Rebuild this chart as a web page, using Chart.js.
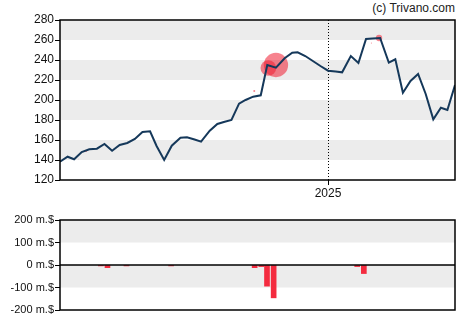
<!DOCTYPE html>
<html>
<head>
<meta charset="utf-8">
<script src="https://cdn.jsdelivr.net/npm/chart.js@4/dist/chart.umd.min.js"></script>
<style>
  body { margin: 0; background: #fff; width: 470px; height: 325px; position: relative; overflow: hidden; }
  canvas { position: absolute; left: 0; }
  #price { top: 0; }
  #trades { top: 200px; }
  .credit { position: absolute; right: 15px; top: 1px; font: 12px 'Liberation Sans', Arial, sans-serif; color: #222; }
</style>
</head>
<body>
<div class="credit">(c) Trivano.com</div>
<canvas id="price" width="470" height="200"></canvas>
<canvas id="trades" width="470" height="125"></canvas>
<script>
// days counted from 2024-04-29, one year window
let days = [0, 7, 13, 20, 27, 34, 41, 48, 55, 62, 69, 76, 83, 89, 96, 103, 111, 117, 124, 130,
    138, 145, 151, 158, 165, 171, 178, 185, 191, 199, 207, 214, 219, 226, 233, 240, 247, 254,
    260, 268, 275, 282, 288, 295, 303, 309, 316, 323, 330, 337, 344, 351, 357, 364];
let prices = [138.3, 143.3, 140.7, 148, 150.7, 151.3, 156, 149.3, 155, 157, 161, 168, 168.7, 154,
    140, 154.3, 162.3, 162.7, 160.5, 158.3, 169.3, 176, 178, 180, 196.3, 200, 203.3, 204.7, 235,
    232.3, 241.7, 247.3, 247.7, 244, 239, 234, 229.3, 228.5, 227.7, 244, 237, 261, 261.5, 262,
    237.3, 240.7, 207.3, 219, 226, 206, 180.7, 192.3, 190, 215];

// insider trades: day, price at the trade, net amount in m.$
let tradeDays = [17, 24, 44, 91, 179, 186, 192, 199, 287, 294];
let tradePrices = [141, 149, 154, 150, 209, 209, 232, 235, 257, 262];
let tradeAmounts = [-4, -12, -4, -4, -12, -7, -94, -146, -7, -38];

let yearDay = 247;        // 2025-01-01
let yearLabel = '2025';
let priceTicks = { min: 120, max: 280, step: 20 };
let amountTicks = { min: -200, max: 200, step: 100 };

Chart.defaults.font.family = "'Liberation Sans', Arial, sans-serif";
Chart.defaults.font.size = 12;
Chart.defaults.color = '#111';

// grey bands, frame, zero line and year marker
let panel = {
    id: 'panel',
    beforeDatasetsDraw(chart, args, opts) {
        let c = chart.ctx, a = chart.chartArea, y = chart.scales.y;
        c.save();
        c.fillStyle = '#ececec';
        let t = y.ticks;
        for (let i = t.length - 1; i > 0; i -= 2) {
            let top = y.getPixelForValue(t[i].value);
            let bot = y.getPixelForValue(t[i - 1].value);
            c.fillRect(a.left, top, a.right - a.left, bot - top);
        }
        if (opts.year !== undefined) {
            let x = Math.round(chart.scales.x.getPixelForValue(opts.year)) + 0.5;
            c.strokeStyle = '#000';
            c.lineWidth = 1;
            c.setLineDash([1, 2]);
            c.beginPath();
            c.moveTo(x, a.top);
            c.lineTo(x, a.bottom);
            c.stroke();
            c.setLineDash([]);
        }
        c.restore();
    },
    afterDatasetsDraw(chart, args, opts) {
        let c = chart.ctx, a = chart.chartArea;
        c.save();
        c.strokeStyle = '#000';
        c.lineWidth = 1.5;
        if (opts.zero) {
            let y0 = chart.scales.y.getPixelForValue(0);
            c.beginPath();
            c.moveTo(a.left, y0);
            c.lineTo(a.right, y0);
            c.stroke();
        }
        c.strokeRect(a.left, a.top, a.right - a.left, a.bottom - a.top);
        c.restore();
    }
};

let priceLine = days.map((d, i) => ({ x: d, y: prices[i] }));
let bubbles = tradeDays.map((d, i) => ({ x: d, y: tradePrices[i], r: Math.abs(tradeAmounts[i]) / 12 }));
let bars = tradeDays.map((d, i) => ({ x: d, y: tradeAmounts[i] }));

new Chart(document.getElementById('price'), {
    type: 'line',
    data: {
        datasets: [{
            type: 'line',
            data: priceLine,
            borderColor: '#15385a',
            borderWidth: 2,
            pointRadius: 0,
            tension: 0,
            order: 1
        }, {
            type: 'bubble',
            data: bubbles,
            backgroundColor: 'rgba(240, 30, 50, 0.55)',
            borderWidth: 0,
            order: 2
        }]
    },
    options: {
        responsive: false,
        animation: false,
        events: [],
        layout: { padding: { left: 0, right: 15, top: 20, bottom: 0 } },
        plugins: { legend: { display: false }, tooltip: { enabled: false }, panel: { year: yearDay } },
        scales: {
            x: {
                type: 'linear',
                min: days[0],
                max: days[days.length - 1],
                afterBuildTicks: s => { s.ticks = [{ value: yearDay }]; },
                afterFit: s => { s.height = 20; },
                ticks: { callback: () => yearLabel, maxRotation: 0, padding: 1 },
                grid: { drawOnChartArea: false, color: '#000', tickLength: 5 },
                border: { display: false }
            },
            y: {
                min: priceTicks.min,
                max: priceTicks.max,
                afterFit: s => { s.width = 60; },
                ticks: { stepSize: priceTicks.step, padding: 1 },
                grid: { drawOnChartArea: false, color: '#000', tickLength: 5 },
                border: { display: false }
            }
        }
    },
    plugins: [panel]
});

new Chart(document.getElementById('trades'), {
    type: 'bar',
    data: {
        datasets: [{
            data: bars,
            backgroundColor: 'rgb(244, 43, 63)',
            barThickness: 5
        }]
    },
    options: {
        responsive: false,
        animation: false,
        events: [],
        layout: { padding: { left: 0, right: 15, top: 20, bottom: 15 } },
        plugins: { legend: { display: false }, tooltip: { enabled: false }, panel: { zero: true } },
        scales: {
            x: {
                type: 'linear',
                min: days[0],
                max: days[days.length - 1],
                display: false
            },
            y: {
                min: amountTicks.min,
                max: amountTicks.max,
                afterFit: s => { s.width = 60; },
                ticks: { stepSize: amountTicks.step, padding: 1, font: { size: 11 }, callback: v => v + ' m.$' },
                grid: { drawOnChartArea: false, color: '#000', tickLength: 5 },
                border: { display: false }
            }
        }
    },
    plugins: [panel]
});
</script>
</body>
</html>
